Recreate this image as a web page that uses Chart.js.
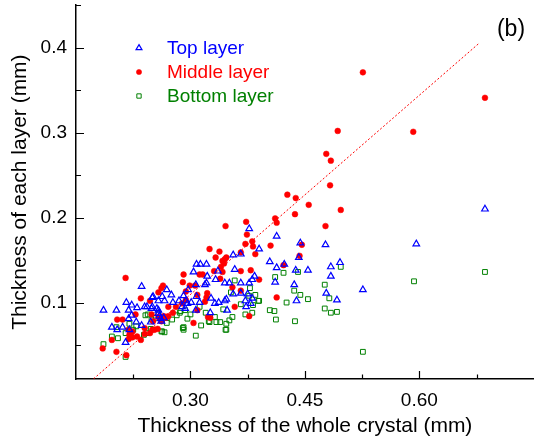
<!DOCTYPE html>
<html>
<head>
<meta charset="utf-8">
<script src="https://cdn.jsdelivr.net/npm/chart.js@4/dist/chart.umd.min.js"></script>
<style>
html,body{margin:0;padding:0;background:#fff;}
#wrap{width:539px;height:437px;position:relative;}
</style>
</head>
<body>
<div id="wrap"><canvas id="c" width="539" height="437"></canvas></div>
<script>
// ---------- DATA ----------
const seriesNames = ["Top layer", "Middle layer", "Bottom layer"];
const xTickValues = [0.30, 0.45, 0.60];
const yTickValues = [0.1, 0.2, 0.3, 0.4];
const xMinorTicks = [0.225, 0.375, 0.525, 0.675];
const yMinorTicks = [0.05, 0.15, 0.25, 0.35, 0.45];
const fitLineX = [0.173, 0.678];
const fitLineY = [0.0102, 0.405];
const panelLabel = "(b)";

const topLayer = [
[0.686,0.210],[0.596,0.169],[0.477,0.168],[0.444,0.170],[0.442,0.153],[0.454,0.138],[0.438,0.138],[0.436,0.121],
[0.439,0.102],[0.484,0.142],[0.484,0.131],[0.496,0.147],[0.492,0.103],[0.478,0.111],[0.526,0.115],[0.404,0.148],
[0.413,0.141],[0.413,0.178],[0.411,0.124],[0.423,0.145],[0.390,0.163],[0.377,0.187],[0.366,0.157],[0.356,0.156],
[0.358,0.139],[0.366,0.123],[0.377,0.123],[0.381,0.127],[0.384,0.131],[0.351,0.123],[0.356,0.110],[0.366,0.111],
[0.375,0.110],[0.372,0.102],[0.381,0.105],[0.379,0.099],[0.373,0.095],[0.347,0.104],[0.348,0.091],
[0.308,0.145],[0.313,0.145],[0.321,0.145],[0.304,0.136],[0.322,0.131],[0.336,0.137],[0.333,0.127],[0.345,0.123],
[0.307,0.121],[0.319,0.121],[0.321,0.123],[0.297,0.115],[0.269,0.115],[0.251,0.107],[0.263,0.107],[0.275,0.109],
[0.258,0.102],[0.266,0.102],[0.277,0.100],[0.285,0.102],[0.294,0.102],[0.301,0.100],[0.308,0.107],[0.327,0.105],
[0.332,0.099],[0.337,0.100],[0.345,0.102],[0.291,0.108],[0.296,0.099],[0.289,0.095],[0.293,0.093],[0.312,0.100],
[0.250,0.095],[0.258,0.091],[0.258,0.087],[0.265,0.082],[0.261,0.081],[0.307,0.091],[0.326,0.088],
[0.236,0.119],[0.186,0.091],[0.203,0.091],[0.216,0.100],[0.223,0.097],[0.230,0.094],[0.219,0.091],[0.240,0.095],
[0.243,0.095],[0.249,0.093],[0.250,0.106],[0.223,0.085],[0.219,0.081],[0.229,0.077],[0.197,0.071],[0.204,0.068],
[0.211,0.071],[0.220,0.068],[0.236,0.073],[0.248,0.077],[0.215,0.053],[0.256,0.093],[0.259,0.084],[0.262,0.078]
];

const middleLayer = [
[0.526,0.371],[0.686,0.341],[0.493,0.302],[0.592,0.301],[0.478,0.275],[0.484,0.267],[0.483,0.238],[0.427,0.227],
[0.438,0.223],[0.455,0.215],[0.497,0.209],[0.437,0.204],[0.411,0.199],[0.413,0.194],[0.477,0.190],[0.346,0.190],
[0.373,0.195],[0.374,0.180],[0.381,0.172],[0.382,0.166],[0.372,0.169],[0.405,0.167],[0.385,0.157],[0.443,0.155],
[0.446,0.168],[0.422,0.144],[0.325,0.163],[0.338,0.160],[0.333,0.153],[0.366,0.159],[0.345,0.151],[0.344,0.146],
[0.340,0.142],[0.347,0.153],[0.342,0.149],[0.366,0.137],[0.379,0.138],[0.390,0.127],[0.331,0.137],[0.342,0.136],
[0.312,0.133],[0.316,0.133],[0.291,0.133],[0.339,0.128],[0.366,0.114],[0.355,0.118],[0.413,0.106],[0.358,0.095],
[0.377,0.084],[0.264,0.120],[0.262,0.117],[0.258,0.112],[0.290,0.124],[0.299,0.120],[0.306,0.120],[0.294,0.113],
[0.309,0.109],[0.321,0.106],[0.322,0.111],[0.319,0.101],[0.294,0.103],[0.289,0.099],[0.281,0.095],[0.271,0.095],
[0.277,0.088],[0.271,0.084],[0.265,0.084],[0.258,0.083],[0.251,0.078],[0.257,0.069],[0.250,0.068],[0.304,0.076],
[0.326,0.082],[0.309,0.091],[0.323,0.083],[0.247,0.102],[0.235,0.105],[0.215,0.129],[0.204,0.080],[0.211,0.080],
[0.197,0.056],[0.185,0.046],[0.203,0.042],[0.216,0.038],[0.219,0.068],[0.224,0.066],[0.220,0.062],[0.224,0.059],
[0.219,0.057],[0.230,0.060],[0.235,0.056],[0.240,0.063],[0.247,0.064],[0.253,0.068],[0.249,0.086],[0.228,0.086],
[0.222,0.064],[0.240,0.070],[0.262,0.078],[0.268,0.082]
];

const bottomLayer = [
[0.686,0.136],[0.593,0.125],[0.526,0.042],[0.497,0.142],[0.476,0.121],[0.482,0.105],[0.476,0.093],[0.484,0.088],
[0.492,0.089],[0.454,0.104],[0.444,0.109],[0.436,0.114],[0.437,0.078],[0.441,0.136],[0.426,0.100],[0.422,0.135],
[0.411,0.130],[0.404,0.091],[0.410,0.090],[0.412,0.080],[0.389,0.102],[0.382,0.097],[0.381,0.088],[0.378,0.117],
[0.372,0.086],[0.377,0.108],[0.385,0.109],[0.390,0.102],[0.366,0.098],[0.353,0.112],[0.358,0.126],[0.355,0.083],
[0.351,0.079],[0.347,0.075],[0.347,0.068],[0.343,0.092],[0.291,0.071],[0.291,0.068],[0.307,0.061],[0.263,0.066],
[0.269,0.076],[0.276,0.080],[0.282,0.085],[0.287,0.090],[0.293,0.091],[0.296,0.081],[0.314,0.073],[0.325,0.077],
[0.332,0.083],[0.334,0.077],[0.339,0.077],[0.346,0.068],[0.320,0.088],[0.312,0.095],[0.300,0.086],
[0.186,0.051],[0.197,0.060],[0.205,0.058],[0.203,0.071],[0.215,0.036],[0.215,0.064],[0.225,0.068],[0.239,0.062],
[0.243,0.064],[0.241,0.085],[0.244,0.086],[0.249,0.080],[0.248,0.069],[0.229,0.072],[0.220,0.075],[0.255,0.082],
[0.258,0.087],[0.262,0.066],[0.266,0.065],[0.290,0.070],[0.286,0.088],[0.324,0.078]
];

// ---------- STYLE ----------
const FONT = '"Liberation Sans", Arial, sans-serif';
const BLUE = '#0000ff', RED = '#ff0000', GREEN = '#008000';
const toPts = arr => arr.map(p => ({x: p[0], y: p[1]}));

const styles = [
  {color: BLUE, pointStyle: 'triangle', radius: 3.8, borderWidth: 1.2, fill: 'rgba(0,0,0,0)'},
  {color: RED, pointStyle: 'circle', radius: 2.9, borderWidth: 0.5, fill: RED},
  {color: GREEN, pointStyle: 'rect', radius: 3.4, borderWidth: 1, fill: 'rgba(0,0,0,0)'}
];
const seriesData = [topLayer, middleLayer, bottomLayer];

const datasets = seriesData.map((arr, i) => ({
  label: seriesNames[i],
  data: toPts(arr),
  pointStyle: styles[i].pointStyle,
  pointRadius: styles[i].radius,
  pointBorderWidth: styles[i].borderWidth,
  borderColor: styles[i].color,
  backgroundColor: styles[i].fill,
  pointBackgroundColor: styles[i].fill,
  pointBorderColor: styles[i].color,
  showLine: false,
  order: i + 1
}));
datasets.push({
  label: 'fit',
  data: fitLineX.map((x, i) => ({x: x, y: fitLineY[i]})),
  showLine: true,
  pointRadius: 0,
  borderColor: RED,
  borderWidth: 1,
  borderDash: [2, 2],
  order: 10
});

const tickPlugin = {
  id: 'inwardTicks',
  afterDraw(chart) {
    const ctx = chart.ctx;
    const xs = chart.scales.x, ys = chart.scales.y;
    const area = chart.chartArea;
    ctx.save();
    ctx.strokeStyle = '#000';
    ctx.lineWidth = 1.2;
    ctx.beginPath();
    xTickValues.forEach(v => { const px = Math.round(xs.getPixelForValue(v)) + 0.5; ctx.moveTo(px, area.bottom); ctx.lineTo(px, area.bottom - 8); });
    xMinorTicks.forEach(v => { const px = Math.round(xs.getPixelForValue(v)) + 0.5; ctx.moveTo(px, area.bottom); ctx.lineTo(px, area.bottom - 4.5); });
    yTickValues.forEach(v => { const py = Math.round(ys.getPixelForValue(v)) + 0.5; ctx.moveTo(area.left, py); ctx.lineTo(area.left + 8, py); });
    yMinorTicks.forEach(v => { const py = Math.round(ys.getPixelForValue(v)) + 0.5; ctx.moveTo(area.left, py); ctx.lineTo(area.left + 5, py); });
    ctx.stroke();

    // legend
    const lx = 139, tx = 167, ly0 = 48, dy = 24;
    ctx.font = '19px ' + FONT;
    ctx.textBaseline = 'middle';
    ctx.textAlign = 'left';
    seriesNames.forEach((name, i) => {
      const y = ly0 + i * dy;
      ctx.strokeStyle = styles[i].color;
      ctx.fillStyle = styles[i].fill;
      ctx.lineWidth = styles[i].borderWidth;
      Chart.helpers.drawPoint(ctx, {pointStyle: styles[i].pointStyle, radius: styles[i].radius * 0.9, rotation: 0, borderWidth: styles[i].borderWidth}, lx, y);
      ctx.fillStyle = styles[i].color;
      ctx.fillText(name, tx, y + 1);
    });

    // panel label
    ctx.fillStyle = '#000';
    ctx.font = '23px ' + FONT;
    ctx.textAlign = 'center';
    ctx.fillText(panelLabel, 511, 30);
    ctx.restore();
  }
};

new Chart(document.getElementById('c'), {
  type: 'scatter',
  data: {datasets: datasets},
  options: {
    responsive: false,
    animation: false,
    devicePixelRatio: 1,
    layout: {padding: {top: 5, right: 0, left: 0, bottom: 0}},
    plugins: {legend: {display: false}, tooltip: {enabled: false}},
    scales: {
      x: {
        type: 'linear', min: 0.15, max: 0.75,
        afterBuildTicks: s => { s.ticks = xTickValues.map(v => ({value: v})); },
        afterFit: s => { s.height = 58; s.paddingLeft = 0; s.paddingRight = 0; },
        grid: {display: false, drawTicks: false},
        border: {display: true, color: '#000', width: 1.5},
        ticks: {color: '#000', font: {family: FONT, size: 19}, padding: 10, maxRotation: 0,
                callback: v => Number(v).toFixed(2)},
        title: {display: true, text: 'Thickness of the whole crystal (mm)', color: '#000',
                font: {family: FONT, size: 21, lineHeight: 1}, padding: {top: 0, bottom: 0}}
      },
      y: {
        type: 'linear', min: 0.01, max: 0.45,
        afterBuildTicks: s => { s.ticks = yTickValues.map(v => ({value: v})); },
        afterFit: s => { s.width = 76; s.paddingTop = 0; s.paddingBottom = 0; },
        grid: {display: false, drawTicks: false},
        border: {display: true, color: '#000', width: 1.5},
        ticks: {color: '#000', font: {family: FONT, size: 19}, padding: 9,
                callback: v => Number(v).toFixed(1)},
        title: {display: true, text: 'Thickness of each layer (mm)', color: '#000',
                font: {family: FONT, size: 21, lineHeight: 1}, padding: {top: 10, bottom: 0}}
      }
    }
  },
  plugins: [tickPlugin]
});
</script>
</body>
</html>
